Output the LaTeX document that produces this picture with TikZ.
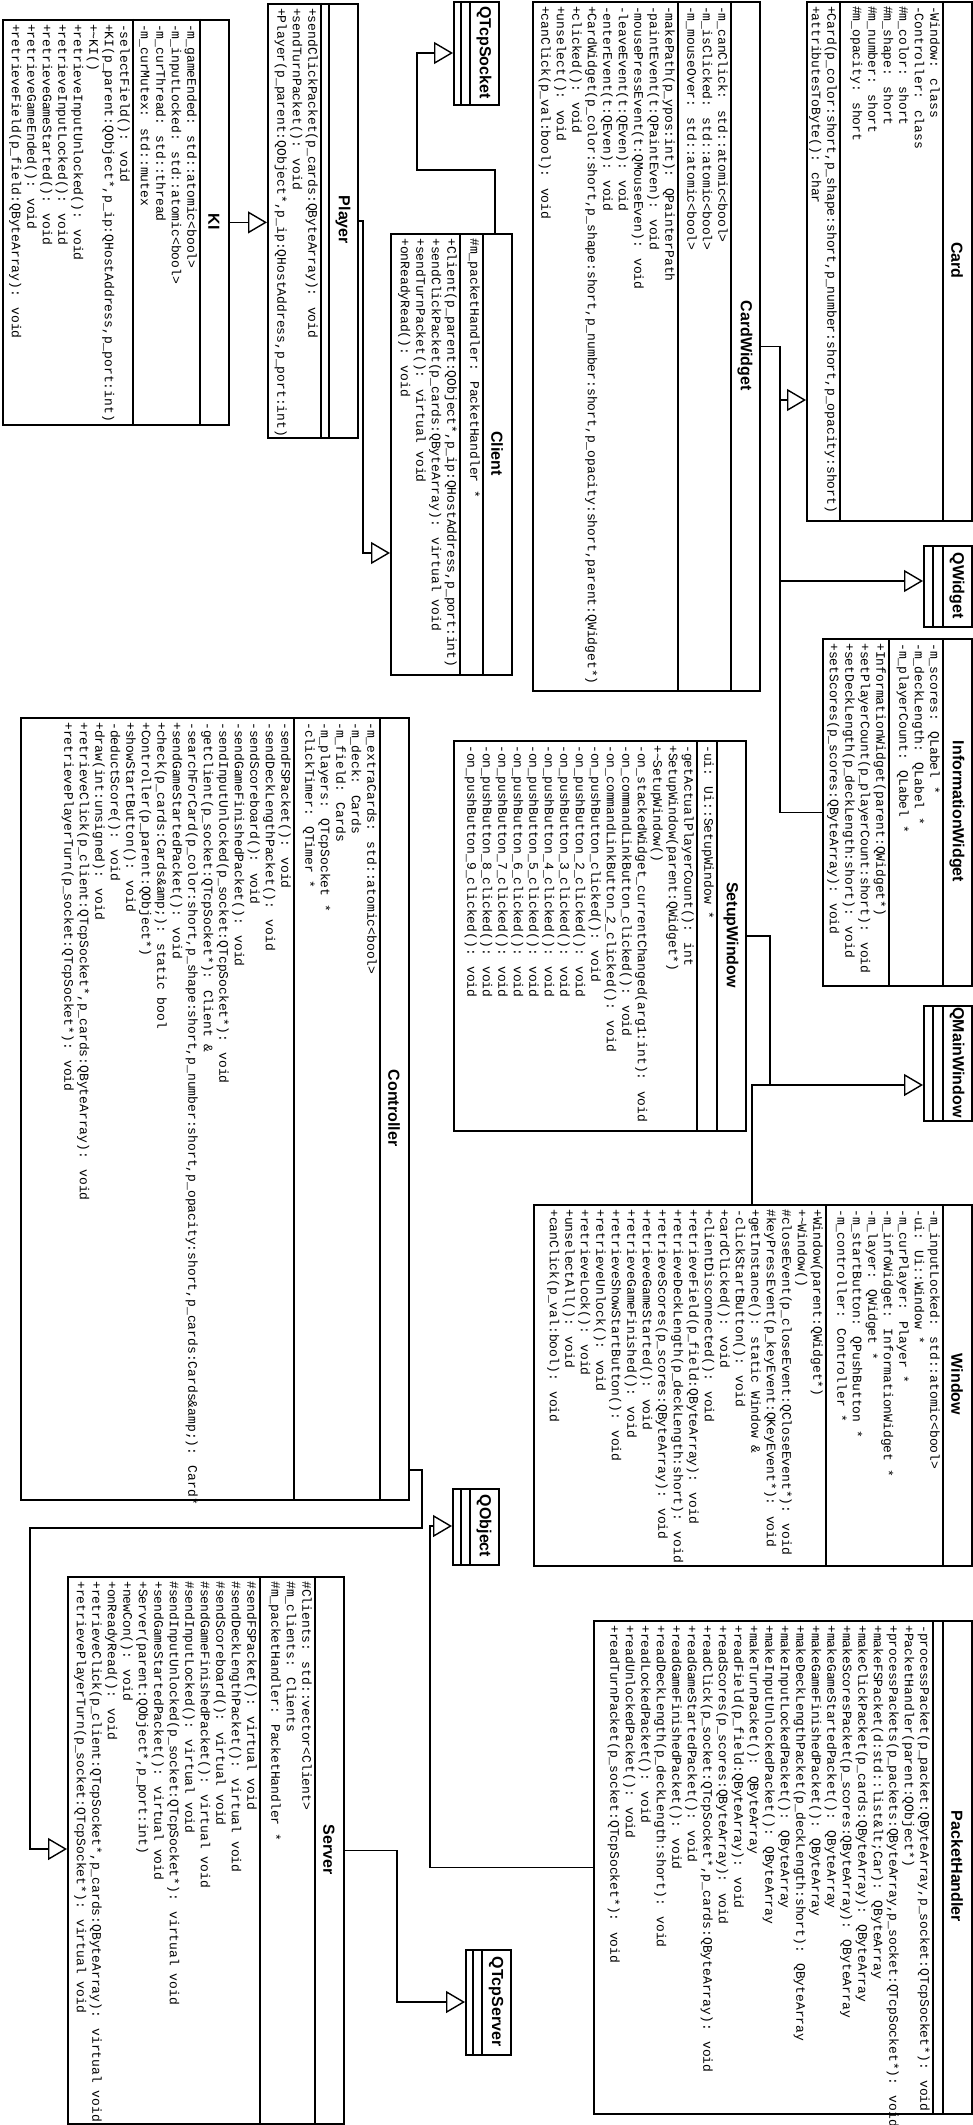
\documentclass[tikz,border=0pt]{standalone}
\usepackage{fontspec}
\newfontfamily\monof{Liberation Mono}
\newfontfamily\sansf{Liberation Sans}
\usetikzlibrary{arrows.meta}
\newcommand\memf{\fontsize{13}{15.5}\selectfont\monof}
\newcommand\hdrf{\fontsize{16}{18}\selectfont\sansf\bfseries}
\tikzset{
  clsbox/.style={draw, line width=1.8pt, inner sep=0pt, anchor=north west},
  sepl/.style={line width=1.5pt},
  mem/.style={rotate=-90, anchor=north west, inner sep=0pt, align=left, font=\memf},
  hdr/.style={rotate=-90, inner sep=0pt, font=\hdrf},
  gen/.style={line width=1.4pt, -{Triangle[open, length=19pt, width=22pt, line width=1.4pt]}},
  lnk/.style={line width=1.4pt}
}
% id, x1, y1, x2, y2, xa (header sep), xm (attr/method sep), label
\newcommand\ucls[8]{%
  \node[clsbox, minimum width={(#4-#2)*1pt}, minimum height={(#5-#3)*1pt}] (#1) at (#2,#3) {};
  \draw[sepl] (#6,#3) -- (#6,#5);
  \draw[sepl] (#7,#3) -- (#7,#5);
  \node[hdr] (#1-h) at ({(#6+#4)/2},{(#3+#5)/2}) {#8};
}
\begin{document}
\begin{tikzpicture}[x=1pt,y=-1pt]
\useasboundingbox[fill=white] (0,0) rectangle (972,2125);

% ---------------- classes ----------------
\ucls{ki}{2}{19}{228}{424}{200}{133}{KI}
\node[mem] (ki-a) at (197,24) {-m\_gameEnded: std::atomic<bool>\\-m\_inputLocked: std::atomic<bool>\\-m\_curThread: std::thread\\-m\_curMutex: std::mutex};
\node[mem] (ki-m) at (130,24) {-selectField(): void\\+KI(p\_parent:QObject*,p\_ip:QHostAddress,p\_port:int)\\+\textasciitilde KI()\\+retrieveInputUnlocked(): void\\+retrieveInputLocked(): void\\+retrieveGameStarted(): void\\+retrieveGameEnded(): void\\+retrieveField(p\_field:QByteArray): void};

\ucls{player}{267}{3}{357}{437}{329}{321}{Player}
\node[mem] (player-m) at (318,8) {+sendClickPacket(p\_cards:QByteArray): void\\+sendTurnPacket(): void\\+Player(p\_parent:QObject*,p\_ip:QHostAddress,p\_port:int)};

\ucls{qtcpsocket}{453}{1}{498}{104}{470}{461}{QTcpSocket}

\ucls{client}{390}{233}{511}{674}{483}{460}{Client}
\node[mem] (client-a) at (480,238) {\#m\_packetHandler: PacketHandler *};
\node[mem] (client-m) at (457,238) {+Client(p\_parent:QObject*,p\_ip:QHostAddress,p\_port:int)\\+sendClickPacket(p\_cards:QByteArray): virtual void\\+sendTurnPacket(): virtual void\\+onReadyRead(): void};

\ucls{cardwidget}{532}{1}{759}{690}{731}{678}{CardWidget}
\node[mem] (cardwidget-a) at (728,6) {-m\_canClick: std::atomic<bool>\\-m\_isClicked: std::atomic<bool>\\-m\_mouseOver: std::atomic<bool>};
\node[mem] (cardwidget-m) at (675,6) {-makePath(p\_ypos:int): QPainterPath\\-paintEvent(t:QPaintEven): void\\-mousePressEvent(t:QMouseEven): void\\-leaveEvent(t:QEven): void\\-enterEvent(t:QEven): void\\+CardWidget(p\_color:short,p\_shape:short,p\_number:short,p\_opacity:short,parent:QWidget*)\\+clicked(): void\\+unselect(): void\\+canClick(p\_val:bool): void};

\ucls{card}{806}{1}{971}{520}{943}{840}{Card}
\node[mem] (card-a) at (940,6) {-Window: class\\-Controller: class\\\#m\_color: short\\\#m\_shape: short\\\#m\_number: short\\\#m\_opacity: short};
\node[mem] (card-m) at (837,6) {+Card(p\_color:short,p\_shape:short,p\_number:short,p\_opacity:short)\\+attributesToByte(): char};

\ucls{qwidget}{923}{545}{971}{626}{943}{933}{QWidget}

\ucls{informationwidget}{822}{638}{971}{985}{943}{889}{InformationWidget}
\node[mem] (informationwidget-a) at (940,643) {-m\_scores: QLabel *\\-m\_deckLength: QLabel *\\-m\_playerCount: QLabel *};
\node[mem] (informationwidget-m) at (886,643) {+InformationWidget(parent:QWidget*)\\+setPlayerCount(p\_playerCount:short): void\\+setDeckLength(p\_deckLength:short): void\\+setScores(p\_scores:QByteArray): void};

\ucls{setupwindow}{453}{740}{745}{1130}{717}{697}{SetupWindow}
\node[mem] (setupwindow-a) at (714,745) {-ui: Ui::SetupWindow *};
\node[mem] (setupwindow-m) at (694,745) {-getActualPlayerCount(): int\\+SetupWindow(parent:QWidget*)\\+\textasciitilde SetupWindow()\\-on\_stackedWidget\_currentChanged(arg1:int): void\\-on\_commandLinkButton\_clicked(): void\\-on\_commandLinkButton\_2\_clicked(): void\\-on\_pushButton\_clicked(): void\\-on\_pushButton\_2\_clicked(): void\\-on\_pushButton\_3\_clicked(): void\\-on\_pushButton\_4\_clicked(): void\\-on\_pushButton\_5\_clicked(): void\\-on\_pushButton\_6\_clicked(): void\\-on\_pushButton\_7\_clicked(): void\\-on\_pushButton\_8\_clicked(): void\\-on\_pushButton\_9\_clicked(): void};

\ucls{qmainwindow}{923}{1005}{971}{1120}{943}{933}{QMainWindow}

\ucls{window}{533}{1204}{971}{1565}{943}{826}{Window}
\node[mem] (window-a) at (940,1209) {-m\_inputLocked: std::atomic<bool>\\-ui: Ui::Window *\\-m\_curPlayer: Player *\\-m\_infoWidget: InformationWidget *\\-m\_layer: QWidget *\\-m\_startButton: QPushButton *\\-m\_controller: Controller *};
\node[mem] (window-m) at (823,1209) {+Window(parent:QWidget*)\\+\textasciitilde Window()\\\#closeEvent(p\_closeEvent:QCloseEvent*): void\\\#keyPressEvent(p\_keyEvent:QKeyEvent*): void\\+getInstance(): static Window \&\\-clickStartButton(): void\\+cardClicked(): void\\+clientDisconnected(): void\\+retrieveField(p\_field:QByteArray): void\\+retrieveDeckLength(p\_deckLength:short): void\\+retrieveScores(p\_scores:QByteArray): void\\+retrieveGameStarted(): void\\+retrieveGameFinished(): void\\+retrieveShowStartButton(): void\\+retrieveUnlock(): void\\+retrieveLock(): void\\+unselectAll(): void\\+canClick(p\_val:bool): void};

\ucls{controller}{20}{717}{408}{1499}{380}{294}{Controller}
\node[mem] (controller-a) at (377,722) {-m\_extraCards: std::atomic<bool>\\-m\_deck: Cards\\-m\_field: Cards\\-m\_players: QTcpSocket *\\-clickTimer: QTimer *};
\node[mem] (controller-m) at (291,722) {-sendFSPacket(): void\\-sendDeckLengthPacket(): void\\-sendScoreboard(): void\\-sendGameFinishedPacket(): void\\-sendInputUnlocked(p\_socket:QTcpSocket*): void\\-getClient(p\_socket:QTcpSocket*): Client \&\\-searchForCard(p\_color:short,p\_shape:short,p\_number:short,p\_opacity:short,p\_cards:Cards\&amp;): Card*\\+sendGameStartedPacket(): void\\+check(p\_cards:Cards\&amp;): static bool\\+Controller(p\_parent:QObject*)\\+showStartButton(): void\\-deductScore(): void\\+draw(int:unsigned): void\\+retrieveClick(p\_client:QTcpSocket*,p\_cards:QByteArray): void\\+retrievePlayerTurn(p\_socket:QTcpSocket*): void};

\ucls{qobject}{452}{1488}{498}{1564}{470}{461}{QObject}

\ucls{packethandler}{593}{1620}{971}{2113}{943}{933}{PacketHandler}
\node[mem] (packethandler-m) at (930,1625) {-processPacket(p\_packet:QByteArray,p\_socket:QTcpSocket*): void\\+PacketHandler(parent:QObject*)\\+processPackets(p\_packets:QByteArray,p\_socket:QTcpSocket*): void\\+makeFSPacket(d:std::list\&lt;Car): QByteArray\\+makeClickPacket(p\_cards:QByteArray): QByteArray\\+makeScoresPacket(p\_scores:QByteArray): QByteArray\\+makeGameStartedPacket(): QByteArray\\+makeGameFinishedPacket(): QByteArray\\+makeDeckLengthPacket(p\_deckLength:short): QByteArray\\+makeInputLockedPacket(): QByteArray\\+makeInputUnlockedPacket(): QByteArray\\+makeTurnPacket(): QByteArray\\+readField(p\_field:QByteArray): void\\+readScores(p\_scores:QByteArray): void\\+readClick(p\_socket:QTcpSocket*,p\_cards:QByteArray): void\\+readGameStartedPacket(): void\\+readGameFinishedPacket(): void\\+readDeckLength(p\_deckLength:short): void\\+readLockedPacket(): void\\+readUnlockedPacket(): void\\+readTurnPacket(p\_socket:QTcpSocket*): void};

\ucls{server}{67}{1576}{343}{2123}{315}{260}{Server}
\node[mem] (server-a) at (312,1581) {\#Clients: std::vector<Client>\\\#m\_clients: Clients\\\#m\_packetHandler: PacketHandler *};
\node[mem] (server-m) at (257,1581) {\#sendFSPacket(): virtual void\\\#sendDeckLengthPacket(): virtual void\\\#sendScoreboard(): virtual void\\\#sendGameFinishedPacket(): virtual void\\\#sendInputLocked(): virtual void\\\#sendInputUnlocked(p\_socket:QTcpSocket*): virtual void\\+sendGameStartedPacket(): virtual void\\+Server(parent:QObject*,p\_port:int)\\+newCon(): void\\+onReadyRead(): void\\+retrieveClick(p\_client:QTcpSocket*,p\_cards:QByteArray): virtual void\\+retrievePlayerTurn(p\_socket:QTcpSocket*): virtual void};

\ucls{qtcpserver}{465}{1949}{510}{2054}{482}{473}{QTcpServer}

% ---------------- connectors ----------------
\draw[gen] (ki.east) -- (ki.east -| player.west);
\coordinate (pc) at (363,553);
\draw[gen] (player.east) -| (pc) -- (pc -| client.west);
\coordinate (cq1) at (495,170);
\coordinate (cq2) at (417,53);
\draw[gen] (client.north -| cq1) -- (cq1) -| (cq2) -- (cq2 -| qtcpsocket.west);

\coordinate (bus) at (780,581);
\draw[gen] (cardwidget.east) -| (bus) -- (bus -| qwidget.west);
\draw[lnk] (informationwidget.west) -| (bus);
\coordinate (cb) at (780,400);
\draw[gen] (cb |- cardwidget.east) -- (cb) -- (cb -| card.west);

\coordinate (wq) at (752,1085);
\draw[gen] (window.north -| wq) -- (wq) -- (wq -| qmainwindow.west);
\coordinate (sq) at (770,1085);
\draw[lnk] (setupwindow.east) -| (sq);

\coordinate (pq) at (430,1526);
\draw[gen] (packethandler.west) -| (pq) -- (pq -| qobject.west);

\coordinate (cs0) at (422,1470);
\coordinate (cs1) at (422,1528);
\coordinate (cs2) at (30,1849);
\draw[gen] (cs0 -| controller.east) -- (cs0) -- (cs1) -| (cs2) -- (cs2 -| server.west);

\coordinate (st) at (397,2002);
\draw[gen] (server.east) -| (st) -- (st -| qtcpserver.west);
\end{tikzpicture}
\end{document}
